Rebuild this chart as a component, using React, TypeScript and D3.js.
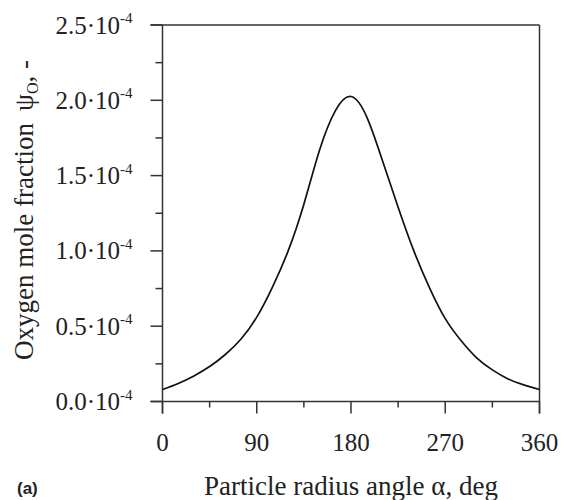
import * as d3 from "d3";

// particle radius angle, deg
const angles = [0, 15, 30, 45, 60, 75, 90, 105, 120, 135, 150, 165, 180, 195, 210, 225, 240, 255, 270, 285, 300, 315, 330, 345, 360];
// oxygen mole fraction, units of 1e-4
const psiO = [0.08, 0.12, 0.17, 0.232, 0.312, 0.415, 0.56, 0.76, 1.0, 1.31, 1.67, 1.93, 2.025, 1.89, 1.6, 1.29, 1.0, 0.755, 0.55, 0.405, 0.29, 0.21, 0.15, 0.11, 0.08];

const xTicks = [0, 90, 180, 270, 360];
const xMinor = [45, 135, 225, 315];
const yTicks = [0, 0.5, 1.0, 1.5, 2.0, 2.5];
const yMinor = [0.25, 0.75, 1.25, 1.75, 2.25];

const App = () => {
  const width = 564, height = 500;
  const x = d3.scaleLinear().domain([0, 360]).range([162.5, 539.5]);
  const y = d3.scaleLinear().domain([0, 2.5]).range([401.5, 25]);

  const line = d3.line<number>()
    .x((d, i) => x(angles[i]))
    .y((d) => y(d))
    .curve(d3.curveNatural);

  const axisColor = "#333";
  const font = "'Liberation Serif', 'Times New Roman', serif";

  return (
    <svg width={width} height={height} style={{ position: "absolute", left: 0, top: 0, background: "#fff" }}>
      {/* frame */}
      <line x1={x(0) - 12} x2={x(360)} y1={y(2.5)} y2={y(2.5)} stroke={axisColor} strokeWidth={1.5} />
      <line x1={x(360)} x2={x(360)} y1={y(2.5)} y2={y(0) + 12} stroke={axisColor} strokeWidth={1.5} />
      <line x1={x(0)} x2={x(0)} y1={y(2.5)} y2={y(0) + 12} stroke={axisColor} strokeWidth={1.5} />
      <line x1={x(0) - 12} x2={x(360)} y1={y(0)} y2={y(0)} stroke={axisColor} strokeWidth={1.5} />

      {/* y ticks */}
      {yTicks.map((t) => (
        <g key={"y" + t}>
          <line x1={x(0) - 12} x2={x(0)} y1={y(t)} y2={y(t)} stroke={axisColor} strokeWidth={1.5} />
          <text x={120} y={y(t) + 8.5} textAnchor="end" fontFamily={font} fontSize={25} fill="#222">
            {t.toFixed(1)}·10
          </text>
          <text x={120} y={y(t) - 2} fontFamily={font} fontSize={15} fill="#222">-4</text>
        </g>
      ))}
      {yMinor.map((t) => (
        <line key={"ym" + t} x1={x(0) - 7} x2={x(0)} y1={y(t)} y2={y(t)} stroke={axisColor} strokeWidth={1.5} />
      ))}

      {/* x ticks */}
      {xTicks.map((t) => (
        <g key={"x" + t}>
          <line x1={x(t)} x2={x(t)} y1={y(0)} y2={y(0) + 12} stroke={axisColor} strokeWidth={1.5} />
          <text x={x(t)} y={451} textAnchor="middle" fontFamily={font} fontSize={25} fill="#222">{t}</text>
        </g>
      ))}
      {xMinor.map((t) => (
        <line key={"xm" + t} x1={x(t)} x2={x(t)} y1={y(0)} y2={y(0) + 6} stroke={axisColor} strokeWidth={1.5} />
      ))}

      {/* curve */}
      <path d={line(psiO) || ""} fill="none" stroke="#111" strokeWidth={1.7} />

      {/* axis titles */}
      <text x={351} y={495} textAnchor="middle" fontFamily={font} fontSize={27} fill="#222">
        Particle radius angle α, deg
      </text>
      <text transform={`translate(33, 210) rotate(-90)`} textAnchor="middle" fontFamily={font} fontSize={27} fill="#222">
        Oxygen mole fraction<tspan dx={12}>ψ</tspan><tspan fontSize={16} dy={5}>O</tspan><tspan dy={-5}>, -</tspan>
      </text>

      <text x={17} y={494} fontFamily="'Liberation Sans', Arial, sans-serif" fontWeight="bold" fontSize={17} fill="#222">(a)</text>
    </svg>
  );
};

export default App;
